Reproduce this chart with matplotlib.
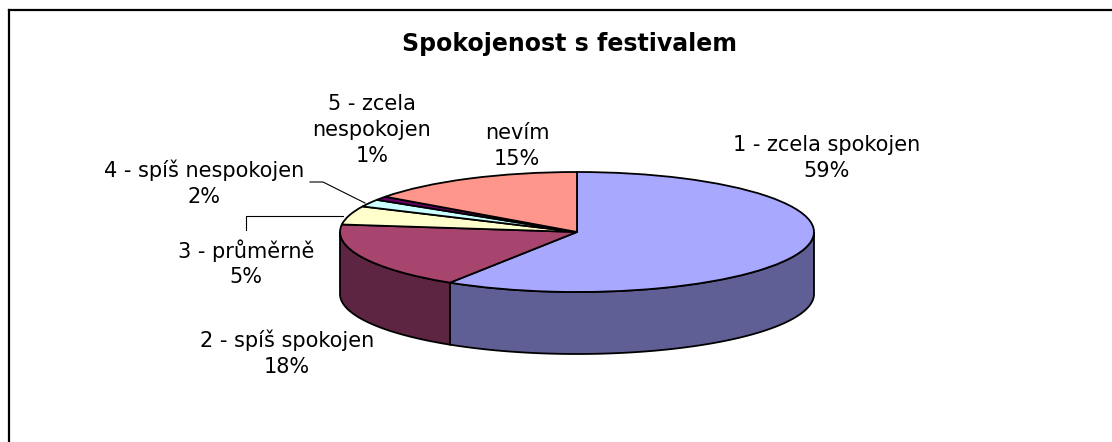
import numpy as np
import matplotlib.pyplot as plt
from matplotlib.patches import Polygon
from matplotlib.lines import Line2D

plt.rcParams["font.family"] = ["DejaVu Sans"]

W, H = 1112, 442

# data
labels = ["1 - zcela spokojen", "2 - spíš spokojen", "3 - průměrně",
          "4 - spíš nespokojen", "5 - zcela\nnespokojen", "nevím"]
values = [59, 18, 5, 2, 1, 15]
top_colors = ["#A8A8FF", "#A8456F", "#FFFFCC", "#CCFFFF", "#660066", "#FF968C"]
side_colors = ["#5F5F96", "#5E2542", "#99997A", "#7A9999", "#3D003D", "#99584F"]

title = "Spokojenost s festivalem"

# geometry of the ellipse in pixels
cx, cy, a, b, depth = 577, 232, 237, 60, 62


def fpx(x, y):
    return x / W, 1 - y / H


fig = plt.figure(figsize=(W / 100, H / 100), dpi=100)
ax = fig.add_axes([0, 0, 1, 1])

# side walls (only the front half is visible)
total = float(sum(values))
cum = np.concatenate([[0], np.cumsum(values)]) / total * 360
d = depth / b
for i in range(len(values)):
    lo = max(cum[i], 90)
    hi = min(cum[i + 1], 270)
    if hi <= lo:
        continue
    t = np.radians(np.linspace(lo, hi, 80))
    top = np.column_stack([np.sin(t), np.cos(t)])
    bot = np.column_stack([np.sin(t), np.cos(t) - d])[::-1]
    ax.add_patch(Polygon(np.vstack([top, bot]), closed=True,
                         facecolor=side_colors[i], edgecolor="black", lw=1.3))

wedges, _ = ax.pie(values, colors=top_colors, startangle=90, counterclock=False,
                   radius=1, wedgeprops=dict(edgecolor="black", linewidth=1.3))

ax.set_aspect("auto")
ax.set_xlim(-cx / a, (W - cx) / a)
ax.set_ylim((cy - H) / b, cy / b)
ax.axis("off")

# frame
fig.add_artist(Line2D([8.5 / W, 8.5 / W], [0, 1 - 10 / H], color="black", lw=1.6,
                      transform=fig.transFigure))
fig.add_artist(Line2D([8.5 / W, 1], [1 - 10 / H, 1 - 10 / H], color="black", lw=1.6,
                      transform=fig.transFigure))

fig.text(*fpx(569, 44), title, ha="center", va="center", fontsize=17,
         fontweight="bold")

label_pos = [(827, 158), (287, 353), (246, 263), (204, 183), (372, 130), (517, 146)]
for lab, v, (x, y) in zip(labels, values, label_pos):
    fig.text(*fpx(x, y), f"{lab}\n{v / total * 100:.0f}%", ha="center",
             va="center", fontsize=15, linespacing=1.35)

# leader lines
leaders = [[(310, 182), (323, 182), (365, 203)],
           [(246, 230), (246, 216), (343, 216)]]
for pts in leaders:
    xs, ys = zip(*[fpx(x, y) for x, y in pts])
    fig.add_artist(Line2D(xs, ys, color="black", lw=0.8, transform=fig.transFigure))

fig.savefig("out.png", dpi=100, facecolor="white")
